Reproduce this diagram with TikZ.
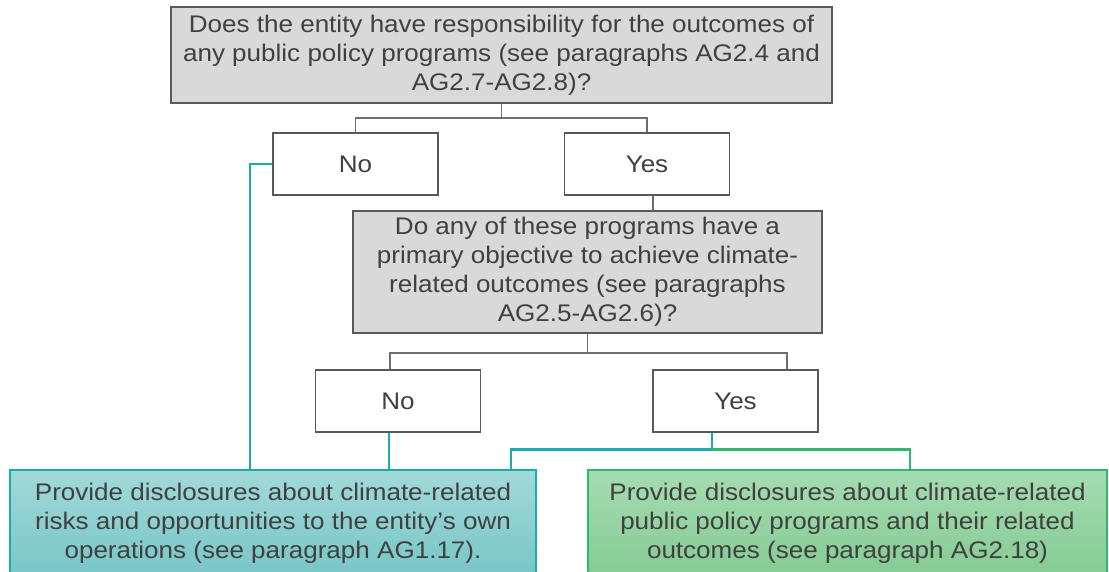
\documentclass[tikz,border=0pt]{standalone}
\usepackage{fontspec}
\setmainfont{Liberation Sans}[FakeStretch=1.085]
\usepackage{xcolor}
\usetikzlibrary{positioning}
\definecolor{boxgray}{HTML}{D9D9D9}
\definecolor{linegray}{HTML}{595959}
\definecolor{conngray}{HTML}{6E6E6E}
\definecolor{txtgray}{HTML}{404040}
\definecolor{tealline}{HTML}{1AABAB}
\definecolor{greenline}{HTML}{2DB96E}
\definecolor{tealtop}{HTML}{A2D9D9}
\definecolor{tealbot}{HTML}{78C6C6}
\definecolor{greentop}{HTML}{A6DCB2}
\definecolor{greenbot}{HTML}{84CB94}
\newcommand{\boxfont}{\fontsize{24}{29}\selectfont}

\tikzset{
  question/.style={draw=linegray, line width=1.6pt, fill=boxgray, align=center,
    text=txtgray, font=\boxfont, inner sep=0pt},
  answer/.style={draw=linegray, line width=1.6pt, fill=white, align=center,
    text=txtgray, font=\boxfont, minimum width=165pt, minimum height=62pt, inner sep=0pt},
  outteal/.style={draw=tealline, line width=1.6pt, top color=tealtop, bottom color=tealbot,
    align=center, text=txtgray, font=\boxfont, minimum height=106pt, inner sep=0pt},
  outgreen/.style={draw=greenline, line width=1.6pt, top color=greentop, bottom color=greenbot,
    align=center, text=txtgray, font=\boxfont, minimum height=106pt, inner sep=0pt},
  conn/.style={draw=conngray, line width=1.8pt},
  tconn/.style={draw=tealline, line width=2.8pt},
  gconn/.style={draw=greenline, line width=2.8pt}
}

\begin{document}
\begin{tikzpicture}[x=1pt, y=-1pt]
    \useasboundingbox (0,0) rectangle (1109,572);

    % first question
    \node[question, minimum width=661pt, minimum height=96pt] (q1) at (501.5,55)
        {Does the entity have responsibility for the outcomes of\\
         any public policy programs (see paragraphs AG2.4 and\\
         AG2.7-AG2.8)?};
    \node[answer] (no1)  at (355.5,164) {No};
    \node[answer] (yes1) at (647,164)   {Yes};

    \coordinate[below=14pt of q1.south] (vq1);
    \draw[conn] (q1.south) -- (vq1);
    \draw[conn] (vq1) -| (no1.north);
    \draw[conn] (vq1) -| (yes1.north);

    % second question
    \node[question, minimum width=469pt, minimum height=122pt] (q2) at (587.5,272)
        {Do any of these programs have a\\
         primary objective to achieve climate-\\
         related outcomes (see paragraphs\\
         AG2.5-AG2.6)?};
    \draw[conn] ([xshift=6pt]yes1.south) -- ([xshift=6pt]yes1.south |- q2.north);

    \node[answer] (no2)  at (398,401)   {No};
    \node[answer] (yes2) at (735.5,401) {Yes};

    \coordinate[below=19pt of q2.south] (vq2);
    \draw[conn] (q2.south) -- (vq2);
    \draw[conn] (vq2) -| ([xshift=-8pt]no2.north);
    \draw[conn] (vq2) -| ([xshift=51.5pt]yes2.north);

    % outcomes
    \node[outteal, minimum width=526pt] (own) at (273,523)
        {Provide disclosures about climate-related\\
         risks and opportunities to the entity’s own\\
         operations (see paragraph AG1.17).};
    \node[outgreen, minimum width=519pt] (pub) at (847.5,523)
        {Provide disclosures about climate-related\\
         public policy programs and their related\\
         outcomes (see paragraph AG2.18)};

    \draw[tconn] (no1.west) -| ([xshift=-23pt]own.north);
    \draw[tconn] ([xshift=-9pt]no2.south) -- ([xshift=-9pt]no2.south |- own.north);

    \coordinate[below=17pt of yes2.south, xshift=-23.5pt] (vyes2);
    \draw[tconn] ([xshift=-23.5pt]yes2.south) -- (vyes2);
    \draw[tconn] (vyes2) -| ([xshift=238pt]own.north);
    \draw[gconn] (vyes2) -| ([xshift=62.5pt]pub.north);
\end{tikzpicture}
\end{document}
